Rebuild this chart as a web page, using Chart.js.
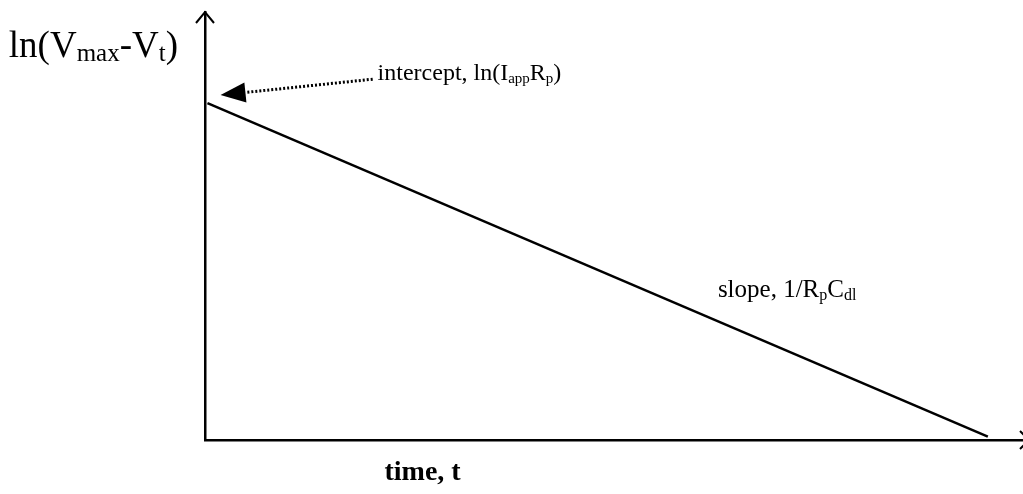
<!DOCTYPE html>
<html>
<head>
<meta charset="utf-8">
<script src="https://cdn.jsdelivr.net/npm/chart.js@4/dist/chart.umd.min.js"></script>
<style>
    html, body { margin: 0; padding: 0; background: #fff; }
    #wrap { width: 1023px; height: 494px; }
</style>
</head>
<body>
<div id="wrap"><canvas id="decayChart" width="1023" height="494"></canvas></div>
<script>
// === Data ===
const timePoints = [0.3, 95.7];
const lnValues = [78.7, 0.8];

// dotted pointer: tail -> head, in data units
const pointerFrom = [20.5, 84.3];
const pointerTo = [1.9, 80.6];

// label anchors (data units)
const interceptAt = [21.1, 84.1];
const slopeAt = [62.7, 33.4];
const timeLabelX = 26.6;

const serif = "'Liberation Serif', 'Times New Roman', serif";

// draw text with subscripts: parts = [[text, isSub], ...]
function drawParts(ctx, parts, x, y, size, align, subScale) {
    const subSize = Math.round(size * (subScale || 0.62));
    let total = 0;
    parts.forEach(p => {
        ctx.font = `${p[1] ? subSize : size}px ${serif}`;
        total += ctx.measureText(p[0]).width;
    });
    let cx = align === 'right' ? x - total : x;
    parts.forEach(p => {
        ctx.font = `${p[1] ? subSize : size}px ${serif}`;
        ctx.fillText(p[0], cx, p[1] ? y + size * 0.12 : y);
        cx += ctx.measureText(p[0]).width;
    });
}

// === Annotations plugin ===
const annotations = {
    id: 'annotations',
    afterDraw(chart) {
        const ctx = chart.ctx;
        const xs = chart.scales.x;
        const ys = chart.scales.y;
        const area = chart.chartArea;
        ctx.save();
        ctx.strokeStyle = '#000';
        ctx.fillStyle = '#000';
        ctx.lineWidth = 2;

        // axis arrowheads (open)
        ctx.beginPath();
        ctx.moveTo(area.left - 9, area.top + 11);
        ctx.lineTo(area.left, area.top);
        ctx.lineTo(area.left + 9, area.top + 11);
        ctx.stroke();
        ctx.beginPath();
        ctx.moveTo(area.right - 3, area.bottom - 9);
        ctx.lineTo(area.right + 6, area.bottom);
        ctx.lineTo(area.right - 3, area.bottom + 9);
        ctx.stroke();

        // dotted pointer to intercept
        const tx = xs.getPixelForValue(pointerFrom[0]);
        const ty = ys.getPixelForValue(pointerFrom[1]);
        const hx = xs.getPixelForValue(pointerTo[0]);
        const hy = ys.getPixelForValue(pointerTo[1]);
        const ang = Math.atan2(hy - ty, hx - tx);
        const headLen = 25;
        const bx = hx - headLen * Math.cos(ang);
        const by = hy - headLen * Math.sin(ang);
        ctx.setLineDash([2, 2]);
        ctx.lineWidth = 3;
        ctx.beginPath();
        ctx.moveTo(tx, ty);
        ctx.lineTo(bx, by);
        ctx.stroke();
        ctx.setLineDash([]);
        ctx.beginPath();
        ctx.moveTo(hx, hy);
        ctx.lineTo(bx + 10 * Math.sin(ang), by - 10 * Math.cos(ang));
        ctx.lineTo(bx - 10 * Math.sin(ang), by + 10 * Math.cos(ang));
        ctx.closePath();
        ctx.fill();

        // texts
        ctx.textBaseline = 'alphabetic';
        ctx.textAlign = 'left';
        drawParts(ctx, [['ln(V', false], ['max', true], ['-V', false], ['t', true], [')', false]],
            area.left - 27, 57, 37, 'right', 0.68);
        drawParts(ctx, [['intercept, ln(I', false], ['app', true], ['R', false], ['p', true], [')', false]],
            xs.getPixelForValue(interceptAt[0]), ys.getPixelForValue(interceptAt[1]), 24);
        drawParts(ctx, [['slope, 1/R', false], ['p', true], ['C', false], ['dl', true]],
            xs.getPixelForValue(slopeAt[0]), ys.getPixelForValue(slopeAt[1]), 25);

        ctx.font = `bold 28px ${serif}`;
        ctx.textAlign = 'center';
        ctx.fillText('time, t', xs.getPixelForValue(timeLabelX), area.bottom + 40);
        ctx.restore();
    }
};

// === Chart ===
new Chart(document.getElementById('decayChart'), {
    type: 'scatter',
    data: {
        datasets: [{
            data: timePoints.map((t, i) => ({ x: t, y: lnValues[i] })),
            showLine: true,
            borderColor: '#000',
            borderWidth: 2.5,
            pointRadius: 0,
            fill: false
        }]
    },
    options: {
        responsive: false,
        animation: false,
        devicePixelRatio: 1,
        layout: { padding: { left: 205, top: 12, right: 0, bottom: 54 } },
        plugins: { legend: { display: false }, tooltip: { enabled: false } },
        scales: {
            x: {
                min: 0, max: 100,
                grid: { display: false },
                ticks: { display: false },
                border: { display: true, color: '#000', width: 2.5 },
                afterFit(scale) { scale.height = 0; }
            },
            y: {
                min: 0, max: 100,
                grid: { display: false },
                ticks: { display: false },
                border: { display: true, color: '#000', width: 2.5 },
                afterFit(scale) { scale.width = 0; }
            }
        }
    },
    plugins: [annotations]
});
</script>
</body>
</html>
